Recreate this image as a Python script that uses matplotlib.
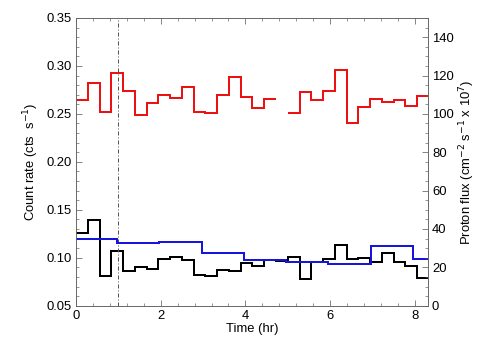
import numpy as np
import matplotlib
matplotlib.use("Agg")
import matplotlib.pyplot as plt
from matplotlib.ticker import MultipleLocator

plt.rcParams['font.family'] = ['Liberation Sans', 'DejaVu Sans']

# 1000 s bins (in hours)
bin_hr = 1000.0 / 3600.0
n_bins = 30
red_rate = [0.265, 0.2825, 0.252, 0.293, 0.274, 0.249, 0.261, 0.270, 0.267, 0.278,
            0.252, 0.251, 0.270, 0.288, 0.268, 0.256, 0.2655, np.nan, 0.251, 0.2725,
            0.264, 0.274, 0.296, 0.241, 0.257, 0.266, 0.262, 0.265, 0.2585, 0.269]
black_rate = [0.1255, 0.1394, 0.081, 0.107, 0.0862, 0.0907, 0.0883, 0.0987, 0.1011, 0.0977,
              0.082, 0.081, 0.0872, 0.0862, 0.0942, 0.0917, 0.0977, 0.0969, 0.1005, 0.0775,
              0.0959, 0.0987, 0.1133, 0.0987, 0.0994, 0.0959, 0.1046, 0.0953, 0.0914, 0.0786]
proton_edges = [-0.03, 0.97, 1.965, 2.965, 3.965, 4.96, 5.955, 6.965, 7.965, 8.965]
proton_flux = [34.6, 32.5, 33.4, 27.3, 23.7, 22.6, 21.7, 31.1, 24.2]
event_time = 1.0

edges = np.arange(n_bins + 1) * bin_hr

fig = plt.figure(figsize=(7, 5), dpi=72)
ax = fig.add_axes([76/504, 1 - 305.7/360, (428 - 76)/504, (305.7 - 18)/360])
ax2 = ax.twinx()

red = np.array(red_rate)
ok = ~np.isnan(red)
idx = np.where(ok)[0]
segs = np.split(idx, np.where(np.diff(idx) != 1)[0] + 1)
for s in segs:
    ax.stairs(red[s], edges[s[0]:s[-1] + 2], color='#ee1111', lw=2.0, baseline=None)
ax.stairs(black_rate, edges, color='black', lw=2.0, baseline=None)
ax2.stairs(proton_flux, proton_edges, color='#1515dd', lw=2.0, baseline=None)
ax.axvline(event_time, color='#555555', lw=1.0, ls=(0, (4, 2, 1, 2)))

ax.set_xlim(0, 8.31)
ax.set_ylim(0.05, 0.35)
ax2.set_ylim(0, 150)

ax.xaxis.set_major_locator(MultipleLocator(2))
ax.xaxis.set_minor_locator(MultipleLocator(0.4))
ax.yaxis.set_major_locator(MultipleLocator(0.05))
ax.yaxis.set_minor_locator(MultipleLocator(0.01))
ax2.yaxis.set_major_locator(MultipleLocator(20))
ax2.yaxis.set_minor_locator(MultipleLocator(5))
ax.yaxis.set_major_formatter(matplotlib.ticker.FormatStrFormatter('%.2f'))

fs = 13
ax.tick_params(axis='both', which='both', direction='in', top=True, right=False,
               labelsize=fs, color='#555555')
ax.tick_params(which='major', length=6, width=0.7, pad=4)
ax.tick_params(which='minor', length=3, width=0.6)
ax2.tick_params(axis='y', which='both', direction='in', labelsize=fs, color='#555555')
ax2.tick_params(which='major', length=6, width=0.7, pad=4)
ax2.tick_params(which='minor', length=3, width=0.6)

for a in (ax, ax2):
    for sp in a.spines.values():
        sp.set_color('#666666')
        sp.set_linewidth(0.8)

ax.set_xlabel('Time (hr)', fontsize=fs, labelpad=1)
ax.set_ylabel('Count rate (cts  s$^{-1}$)', fontsize=fs, labelpad=6)
ax2.set_ylabel('Proton flux (cm$^{-2}$ s$^{-1}$ x 10$^{7}$)', fontsize=fs, labelpad=4)

fig.savefig('out.png', dpi=72)
